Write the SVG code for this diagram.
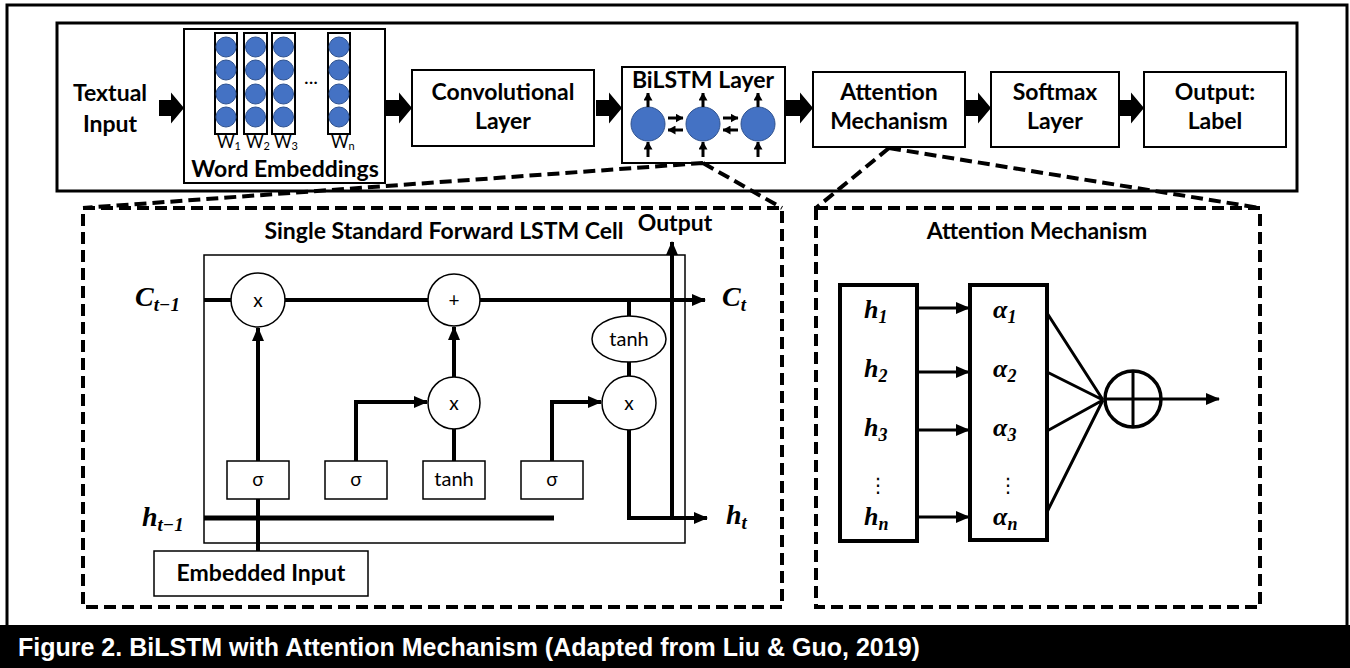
<svg xmlns="http://www.w3.org/2000/svg" width="1350" height="668" viewBox="0 0 1350 668">
<style>
.box{fill:#fff;stroke:#000;stroke-width:2}
.t{font-family:Lato,"Open Sans","Liberation Sans",sans-serif;font-weight:700;font-size:23px;text-anchor:middle;fill:#000}
.r{font-family:Lato,"Open Sans","Liberation Sans",sans-serif;font-weight:400;fill:#000}
.m{font-family:"Liberation Serif","DejaVu Serif",serif;font-style:italic;font-weight:700;fill:#000}
.dots{font-family:"DejaVu Sans",sans-serif;font-size:20px;text-anchor:middle;fill:#000}
.dash{fill:none;stroke:#000;stroke-width:4;stroke-dasharray:12 6}
.ln{fill:none;stroke:#000;stroke-width:4}
.thin{fill:#fff;stroke:#000;stroke-width:1.5}
.blk{fill:#000}
.bc{fill:#4472C4;stroke:#2F528F;stroke-width:1}
</style>
<defs>
<marker id="ah" viewBox="0 0 14 12" refX="13" refY="6" markerWidth="14" markerHeight="12" markerUnits="userSpaceOnUse" orient="auto"><path d="M0,0 L14,6 L0,12 Z" fill="#000"/></marker>
<marker id="as" viewBox="0 0 8 9" refX="7.5" refY="4.5" markerWidth="8" markerHeight="9" markerUnits="userSpaceOnUse" orient="auto"><path d="M0,0 L8,4.5 L0,9 Z" fill="#000"/></marker>
</defs>
<rect x="0" y="0" width="1350" height="668" fill="#fff"/>
<rect x="7" y="5" width="1340" height="622" fill="none" stroke="#000" stroke-width="3"/>
<g id="pipeline-frame"><rect x="57" y="23" width="1240" height="168" fill="none" stroke="#000" stroke-width="3"/></g>

<g id="textual-input"><text class="t" x="110" y="101" font-size="24">Textual</text><text class="t" x="110" y="132" font-size="24">Input</text></g>

<g id="word-embeddings">
<rect class="box" x="184" y="29" width="201" height="154"/>
<rect class="box" x="215" y="33" width="22" height="101"/>
<rect class="box" x="244" y="33" width="23" height="101"/>
<rect class="box" x="272" y="33" width="23" height="101"/>
<rect class="box" x="328" y="33" width="22" height="101"/>
<g class="bc">
<circle cx="226" cy="47" r="10"/><circle cx="226" cy="70" r="10"/><circle cx="226" cy="94" r="10"/><circle cx="226" cy="117" r="10"/>
<circle cx="255.5" cy="47" r="10"/><circle cx="255.5" cy="70" r="10"/><circle cx="255.5" cy="94" r="10"/><circle cx="255.5" cy="117" r="10"/>
<circle cx="283.5" cy="47" r="10"/><circle cx="283.5" cy="70" r="10"/><circle cx="283.5" cy="94" r="10"/><circle cx="283.5" cy="117" r="10"/>
<circle cx="339" cy="47" r="10"/><circle cx="339" cy="70" r="10"/><circle cx="339" cy="94" r="10"/><circle cx="339" cy="117" r="10"/>
</g>
<text class="r" x="311" y="84" font-size="20" text-anchor="middle" fill="#44546A">...</text>
<text class="r" x="217" y="148" font-size="17" fill="#222">W<tspan font-size="11" dy="2">1</tspan></text>
<text class="r" x="246" y="148" font-size="17" fill="#222">W<tspan font-size="11" dy="2">2</tspan></text>
<text class="r" x="274" y="148" font-size="17" fill="#222">W<tspan font-size="11" dy="2">3</tspan></text>
<text class="r" x="331" y="148" font-size="17" fill="#222">W<tspan font-size="11" dy="2">n</tspan></text>
<text class="t" x="285" y="177" font-size="24">Word Embeddings</text>
</g>

<g id="conv-layer"><rect class="box" x="412" y="70" width="182" height="76"/><text class="t" x="503" y="100">Convolutional</text><text class="t" x="503" y="129">Layer</text></g>

<g id="bilstm-layer">
<rect class="box" x="622" y="67" width="163" height="96"/>
<text class="t" x="703" y="88" font-size="21">BiLSTM Layer</text>
<circle class="bc" cx="648" cy="124" r="17"/><circle class="bc" cx="703" cy="124" r="17"/><circle class="bc" cx="758" cy="124" r="17"/>
<g stroke="#000" stroke-width="3" marker-end="url(#as)">
<line x1="648" y1="107" x2="648" y2="93"/><line x1="703" y1="107" x2="703" y2="93"/><line x1="758" y1="107" x2="758" y2="93"/>
<line x1="648" y1="157" x2="648" y2="142"/><line x1="703" y1="157" x2="703" y2="142"/><line x1="758" y1="157" x2="758" y2="142"/>
<line x1="668" y1="118" x2="683" y2="118"/><line x1="683" y1="130" x2="668" y2="130"/>
<line x1="723" y1="118" x2="738" y2="118"/><line x1="738" y1="130" x2="723" y2="130"/>
</g>
</g>

<g id="attention-box"><rect class="box" x="813" y="72" width="152" height="75"/><text class="t" x="889" y="100">Attention</text><text class="t" x="889" y="129">Mechanism</text></g>
<g id="softmax-layer"><rect class="box" x="991" y="72" width="128" height="75"/><text class="t" x="1055" y="100">Softmax</text><text class="t" x="1055" y="129">Layer</text></g>
<g id="output-label"><rect class="box" x="1144" y="72" width="142" height="75"/><text class="t" x="1215" y="100">Output:</text><text class="t" x="1215" y="129">Label</text></g>

<g id="connectors">
<path class="blk" d="M159,100 H171 V92.5 L184,108 L171,123.5 V116 H159 Z"/>
<path class="blk" d="M386,100 H399 V92.5 L412,108 L399,123.5 V116 H386 Z"/>
<path class="blk" d="M596,100 H609 V92.5 L622,108 L609,123.5 V116 H596 Z"/>
<path class="blk" d="M786,100 H800 V92.5 L813,108 L800,123.5 V116 H786 Z"/>
<path class="blk" d="M965,100 H978 V92.5 L991,108 L978,123.5 V116 H965 Z"/>
<path class="blk" d="M1119,100 H1131 V92.5 L1144,108 L1131,123.5 V116 H1119 Z"/>
<path class="dash" d="M703,163 L83,208 M703,163 L782,208 M889,148 L816,208 M889,148 L1260,208"/>
</g>

<g id="lstm-panel">
<rect class="dash" x="83" y="208" width="699" height="399"/>
<text class="t" x="444" y="239" font-size="21">Single Standard Forward LSTM Cell</text>
<text class="t" x="675" y="231" font-size="21">Output</text>
<rect x="204" y="255" width="481" height="288" fill="none" stroke="#000" stroke-width="1.5"/>
</g>

<g id="lstm-wires">
<line class="ln" x1="204" y1="300" x2="705" y2="300" marker-end="url(#ah)"/>
<line class="ln" x1="629" y1="300" x2="629" y2="380"/>
<line class="ln" x1="258" y1="551" x2="258" y2="328" marker-end="url(#ah)"/>
<polyline class="ln" points="356,480 356,402 427,402" marker-end="url(#ah)"/>
<line class="ln" x1="454" y1="480" x2="454" y2="403"/>
<line class="ln" x1="454" y1="377" x2="454" y2="327" marker-end="url(#ah)"/>
<polyline class="ln" points="552,480 552,402 601,402" marker-end="url(#ah)"/>
<line x1="204" y1="518" x2="554" y2="518" stroke="#000" stroke-width="5"/>
<polyline class="ln" points="629,420 629,518 707,518" marker-end="url(#ah)"/>
<line class="ln" x1="672" y1="518" x2="672" y2="242" marker-end="url(#ah)"/>
</g>

<g id="gate-mult-forget"><circle class="thin" cx="258" cy="300" r="27"/><text class="r" x="258" y="307" font-size="19" text-anchor="middle">x</text></g>
<g id="gate-add"><circle class="thin" cx="454" cy="300" r="26"/><text class="r" x="454" y="307" font-size="19" text-anchor="middle">+</text></g>
<g id="gate-mult-input"><circle class="thin" cx="454" cy="403" r="26"/><text class="r" x="454" y="410" font-size="19" text-anchor="middle">x</text></g>
<g id="tanh-cell"><ellipse class="thin" cx="629" cy="339" rx="37" ry="23"/><text class="r" x="629" y="346" font-size="20" text-anchor="middle">tanh</text></g>
<g id="gate-mult-output"><circle class="thin" cx="629" cy="403" r="27"/><text class="r" x="629" y="410" font-size="19" text-anchor="middle">x</text></g>
<g id="sigma-forget"><rect class="thin" x="227" y="461" width="62" height="38"/><text class="r" x="258" y="486" font-size="19" text-anchor="middle">σ</text></g>
<g id="sigma-input"><rect class="thin" x="325" y="461" width="62" height="38"/><text class="r" x="356" y="486" font-size="19" text-anchor="middle">σ</text></g>
<g id="tanh-gate"><rect class="thin" x="423" y="461" width="62" height="38"/><text class="r" x="454" y="486" font-size="20" text-anchor="middle">tanh</text></g>
<g id="sigma-output"><rect class="thin" x="521" y="461" width="62" height="38"/><text class="r" x="552" y="486" font-size="19" text-anchor="middle">σ</text></g>
<g id="embedded-input"><rect class="thin" x="154" y="551" width="214" height="45"/><text class="t" x="261" y="581" font-size="22">Embedded Input</text></g>

<g id="lstm-labels">
<text class="m" x="135" y="306" font-size="28">C<tspan font-size="19" dy="5">t−1</tspan></text>
<text class="m" x="722" y="306" font-size="28">C<tspan font-size="19" dy="5">t</tspan></text>
<text class="m" x="142" y="526" font-size="28">h<tspan font-size="19" dy="5">t−1</tspan></text>
<text class="m" x="726" y="524" font-size="28">h<tspan font-size="19" dy="5">t</tspan></text>
</g>

<g id="attention-panel">
<rect class="dash" x="816" y="208" width="444" height="399"/>
<text class="t" x="1037" y="239" font-size="22">Attention Mechanism</text>
</g>
<g id="hidden-states">
<rect x="840" y="285" width="77" height="256" fill="#fff" stroke="#000" stroke-width="4"/>
<text class="m" x="864" y="318" font-size="26">h<tspan font-size="18" dy="5">1</tspan></text>
<text class="m" x="864" y="377" font-size="26">h<tspan font-size="18" dy="5">2</tspan></text>
<text class="m" x="864" y="436" font-size="26">h<tspan font-size="18" dy="5">3</tspan></text>
<text class="dots" x="878" y="492">⋮</text>
<text class="m" x="864" y="525" font-size="26">h<tspan font-size="18" dy="5">n</tspan></text>
</g>
<g id="weights">
<rect x="970" y="285" width="77" height="255" fill="#fff" stroke="#000" stroke-width="4"/>
<text class="m" x="993" y="318" font-size="26">α<tspan font-size="18" dy="5">1</tspan></text>
<text class="m" x="993" y="377" font-size="26">α<tspan font-size="18" dy="5">2</tspan></text>
<text class="m" x="993" y="436" font-size="26">α<tspan font-size="18" dy="5">3</tspan></text>
<text class="dots" x="1008" y="492">⋮</text>
<text class="m" x="993" y="525" font-size="26">α<tspan font-size="18" dy="5">n</tspan></text>
</g>
<g id="sum-node">
<circle cx="1133" cy="399" r="28" fill="#fff" stroke="#000" stroke-width="3.5"/>
<line x1="1105" y1="399" x2="1161" y2="399" stroke="#000" stroke-width="3"/>
<line x1="1133" y1="371" x2="1133" y2="427" stroke="#000" stroke-width="3"/>
</g>
<g id="attention-wires" stroke="#000" stroke-width="3" fill="none">
<line x1="917" y1="308" x2="969" y2="308" marker-end="url(#ah)"/>
<line x1="917" y1="372" x2="969" y2="372" marker-end="url(#ah)"/>
<line x1="917" y1="430" x2="969" y2="430" marker-end="url(#ah)"/>
<line x1="917" y1="517" x2="969" y2="517" marker-end="url(#ah)"/>
<path d="M1047,313 L1103,400 M1047,372 L1103,400 M1047,431 L1103,400 M1047,512 L1103,400"/>
<line x1="1161" y1="399" x2="1219" y2="399" marker-end="url(#ah)"/>
</g>

<g id="caption">
<rect x="0" y="625" width="1350" height="43" fill="#000"/>
<text x="18" y="656" font-family="'Liberation Sans',Arial,sans-serif" font-weight="700" font-size="25" fill="#fff">Figure 2. BiLSTM with Attention Mechanism (Adapted from Liu &amp; Guo, 2019)</text>
</g>
</svg>
